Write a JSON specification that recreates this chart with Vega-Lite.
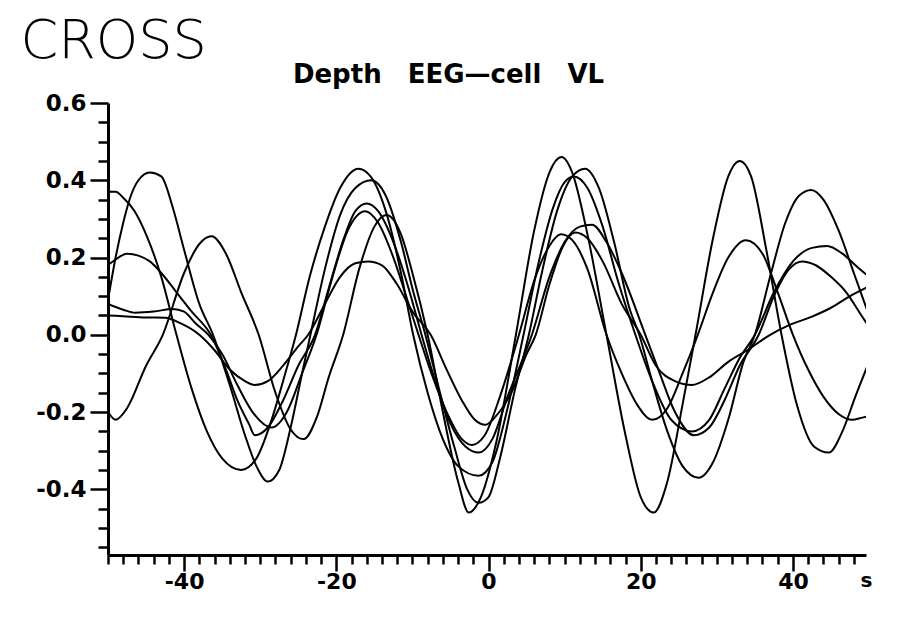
{
  "$schema": "https://vega.github.io/schema/vega-lite/v6.json",
  "autosize": {"type": "none"},
  "width": 758,
  "height": 452,
  "padding": {"left": 108, "top": 103, "right": 36, "bottom": 70},
  "background": "white",
  "config": {"view": {"stroke": null}},
  "resolve": {"axis": {"x": "independent", "y": "independent"}},
  "layer": [
    {
      "data": {"values": [
        {"c":"c1","t":-50,"v":0.37},{"c":"c1","t":-49,"v":0.37},{"c":"c1","t":-48,"v":0.355},{"c":"c1","t":-46.5,"v":0.32},{"c":"c1","t":-45,"v":0.26},{"c":"c1","t":-43,"v":0.15},{"c":"c1","t":-41,"v":0.0},{"c":"c1","t":-39,"v":-0.14},{"c":"c1","t":-37,"v":-0.25},{"c":"c1","t":-35,"v":-0.32},{"c":"c1","t":-32.5,"v":-0.35},{"c":"c1","t":-30.5,"v":-0.32},{"c":"c1","t":-28.5,"v":-0.22},{"c":"c1","t":-27,"v":-0.12},{"c":"c1","t":-25.3,"v":0.0},{"c":"c1","t":-23.5,"v":0.15},{"c":"c1","t":-21.5,"v":0.28},{"c":"c1","t":-19.5,"v":0.38},{"c":"c1","t":-17.1,"v":0.43},{"c":"c1","t":-15.5,"v":0.41},{"c":"c1","t":-13.5,"v":0.32},{"c":"c1","t":-11.5,"v":0.16},{"c":"c1","t":-9.9,"v":0.0},{"c":"c1","t":-8,"v":-0.15},{"c":"c1","t":-6,"v":-0.27},{"c":"c1","t":-4,"v":-0.34},{"c":"c1","t":-1.3,"v":-0.365},{"c":"c1","t":0.5,"v":-0.33},{"c":"c1","t":2.5,"v":-0.19},{"c":"c1","t":4.6,"v":0.0},{"c":"c1","t":6.5,"v":0.18},{"c":"c1","t":8.5,"v":0.33},{"c":"c1","t":10,"v":0.395},{"c":"c1","t":11.2,"v":0.41},{"c":"c1","t":13,"v":0.38},{"c":"c1","t":15,"v":0.28},{"c":"c1","t":17,"v":0.14},{"c":"c1","t":19.3,"v":0.0},{"c":"c1","t":21.5,"v":-0.12},{"c":"c1","t":24,"v":-0.22},{"c":"c1","t":26.7,"v":-0.25},{"c":"c1","t":29,"v":-0.22},{"c":"c1","t":31,"v":-0.14},{"c":"c1","t":33,"v":-0.06},{"c":"c1","t":35,"v":0.0},{"c":"c1","t":37.5,"v":0.11},{"c":"c1","t":40,"v":0.19},{"c":"c1","t":42.5,"v":0.225},{"c":"c1","t":44.5,"v":0.23},{"c":"c1","t":46.5,"v":0.21},{"c":"c1","t":48.5,"v":0.175},{"c":"c1","t":50,"v":0.15},

        {"c":"c2","t":-50,"v":0.09},{"c":"c2","t":-49,"v":0.2},{"c":"c2","t":-48,"v":0.29},{"c":"c2","t":-47,"v":0.36},{"c":"c2","t":-46,"v":0.4},{"c":"c2","t":-44.5,"v":0.42},{"c":"c2","t":-43,"v":0.41},{"c":"c2","t":-41.5,"v":0.33},{"c":"c2","t":-40,"v":0.22},{"c":"c2","t":-38,"v":0.08},{"c":"c2","t":-36.2,"v":0.0},{"c":"c2","t":-34,"v":-0.13},{"c":"c2","t":-32,"v":-0.26},{"c":"c2","t":-30.5,"v":-0.34},{"c":"c2","t":-29,"v":-0.38},{"c":"c2","t":-27.5,"v":-0.35},{"c":"c2","t":-26,"v":-0.24},{"c":"c2","t":-24.5,"v":-0.1},{"c":"c2","t":-23.4,"v":0.0},{"c":"c2","t":-21.5,"v":0.17},{"c":"c2","t":-19.5,"v":0.31},{"c":"c2","t":-17.5,"v":0.38},{"c":"c2","t":-15.4,"v":0.4},{"c":"c2","t":-13.5,"v":0.36},{"c":"c2","t":-11.5,"v":0.24},{"c":"c2","t":-10,"v":0.12},{"c":"c2","t":-8.3,"v":0.0},{"c":"c2","t":-6.5,"v":-0.14},{"c":"c2","t":-4.5,"v":-0.29},{"c":"c2","t":-2.8,"v":-0.4},{"c":"c2","t":-1.3,"v":-0.435},{"c":"c2","t":0,"v":-0.42},{"c":"c2","t":1.5,"v":-0.32},{"c":"c2","t":3.5,"v":-0.14},{"c":"c2","t":5.3,"v":0.0},{"c":"c2","t":7,"v":0.16},{"c":"c2","t":9,"v":0.32},{"c":"c2","t":11,"v":0.41},{"c":"c2","t":12.7,"v":0.43},{"c":"c2","t":14.5,"v":0.38},{"c":"c2","t":16.5,"v":0.24},{"c":"c2","t":18.5,"v":0.07},{"c":"c2","t":19.8,"v":0.0},{"c":"c2","t":21.5,"v":-0.12},{"c":"c2","t":23.5,"v":-0.25},{"c":"c2","t":25.5,"v":-0.34},{"c":"c2","t":27.6,"v":-0.37},{"c":"c2","t":29.5,"v":-0.33},{"c":"c2","t":31.5,"v":-0.22},{"c":"c2","t":33.5,"v":-0.07},{"c":"c2","t":35,"v":0.0},{"c":"c2","t":37,"v":0.15},{"c":"c2","t":39,"v":0.29},{"c":"c2","t":40.8,"v":0.36},{"c":"c2","t":42.4,"v":0.375},{"c":"c2","t":44,"v":0.35},{"c":"c2","t":46,"v":0.27},{"c":"c2","t":48,"v":0.16},{"c":"c2","t":50,"v":0.05},

        {"c":"c3","t":-50,"v":0.18},{"c":"c3","t":-49,"v":0.195},{"c":"c3","t":-47.5,"v":0.21},{"c":"c3","t":-46,"v":0.205},{"c":"c3","t":-44.5,"v":0.19},{"c":"c3","t":-43,"v":0.16},{"c":"c3","t":-41,"v":0.11},{"c":"c3","t":-39,"v":0.06},{"c":"c3","t":-36.5,"v":0.0},{"c":"c3","t":-34.5,"v":-0.09},{"c":"c3","t":-33,"v":-0.17},{"c":"c3","t":-31.5,"v":-0.23},{"c":"c3","t":-30.7,"v":-0.26},{"c":"c3","t":-29,"v":-0.24},{"c":"c3","t":-27,"v":-0.17},{"c":"c3","t":-25,"v":-0.08},{"c":"c3","t":-22.8,"v":0.0},{"c":"c3","t":-21,"v":0.12},{"c":"c3","t":-19,"v":0.25},{"c":"c3","t":-17.5,"v":0.32},{"c":"c3","t":-16,"v":0.34},{"c":"c3","t":-14.5,"v":0.32},{"c":"c3","t":-12.5,"v":0.24},{"c":"c3","t":-10.5,"v":0.12},{"c":"c3","t":-8.8,"v":0.0},{"c":"c3","t":-7,"v":-0.12},{"c":"c3","t":-5,"v":-0.23},{"c":"c3","t":-3,"v":-0.29},{"c":"c3","t":-1.3,"v":-0.305},{"c":"c3","t":0.5,"v":-0.27},{"c":"c3","t":2.5,"v":-0.16},{"c":"c3","t":5.7,"v":0.0},{"c":"c3","t":8,"v":0.15},{"c":"c3","t":10,"v":0.24},{"c":"c3","t":12,"v":0.28},{"c":"c3","t":13.6,"v":0.285},{"c":"c3","t":15.5,"v":0.24},{"c":"c3","t":17.5,"v":0.16},{"c":"c3","t":20.6,"v":0.0},{"c":"c3","t":22.5,"v":-0.1},{"c":"c3","t":24.5,"v":-0.2},{"c":"c3","t":27,"v":-0.26},{"c":"c3","t":29,"v":-0.24},{"c":"c3","t":31,"v":-0.17},{"c":"c3","t":33,"v":-0.08},{"c":"c3","t":35.5,"v":0.0},{"c":"c3","t":37.5,"v":0.1},{"c":"c3","t":39.5,"v":0.17},{"c":"c3","t":41.2,"v":0.19},{"c":"c3","t":43,"v":0.18},{"c":"c3","t":45,"v":0.15},{"c":"c3","t":47,"v":0.11},{"c":"c3","t":49,"v":0.05},{"c":"c3","t":50,"v":0.02},

        {"c":"c4","t":-50,"v":0.08},{"c":"c4","t":-48,"v":0.065},{"c":"c4","t":-46.4,"v":0.057},{"c":"c4","t":-44,"v":0.06},{"c":"c4","t":-41.5,"v":0.067},{"c":"c4","t":-40,"v":0.06},{"c":"c4","t":-38.5,"v":0.03},{"c":"c4","t":-36.8,"v":0.0},{"c":"c4","t":-35,"v":-0.05},{"c":"c4","t":-33,"v":-0.13},{"c":"c4","t":-31,"v":-0.2},{"c":"c4","t":-28.5,"v":-0.24},{"c":"c4","t":-26.5,"v":-0.2},{"c":"c4","t":-24.5,"v":-0.1},{"c":"c4","t":-22.6,"v":0.0},{"c":"c4","t":-20.5,"v":0.15},{"c":"c4","t":-18.5,"v":0.27},{"c":"c4","t":-16.2,"v":0.32},{"c":"c4","t":-14.5,"v":0.29},{"c":"c4","t":-12.5,"v":0.2},{"c":"c4","t":-10.5,"v":0.08},{"c":"c4","t":-9.2,"v":0.0},{"c":"c4","t":-7.5,"v":-0.1},{"c":"c4","t":-5.5,"v":-0.2},{"c":"c4","t":-3.5,"v":-0.27},{"c":"c4","t":-2.2,"v":-0.285},{"c":"c4","t":-0.5,"v":-0.26},{"c":"c4","t":1.5,"v":-0.16},{"c":"c4","t":4,"v":0.0},{"c":"c4","t":6,"v":0.14},{"c":"c4","t":8,"v":0.23},{"c":"c4","t":9.5,"v":0.26},{"c":"c4","t":11,"v":0.245},{"c":"c4","t":13,"v":0.17},{"c":"c4","t":15.5,"v":0.0},{"c":"c4","t":17.5,"v":-0.1},{"c":"c4","t":19.5,"v":-0.18},{"c":"c4","t":21.5,"v":-0.22},{"c":"c4","t":23.5,"v":-0.19},{"c":"c4","t":25.5,"v":-0.1},{"c":"c4","t":27.5,"v":0.0},{"c":"c4","t":29.5,"v":0.11},{"c":"c4","t":31.5,"v":0.2},{"c":"c4","t":33.8,"v":0.245},{"c":"c4","t":36,"v":0.21},{"c":"c4","t":38,"v":0.11},{"c":"c4","t":40,"v":0.0},{"c":"c4","t":42,"v":-0.09},{"c":"c4","t":44,"v":-0.16},{"c":"c4","t":46,"v":-0.205},{"c":"c4","t":47.8,"v":-0.22},{"c":"c4","t":49,"v":-0.215},{"c":"c4","t":50,"v":-0.21},

        {"c":"c5","t":-50,"v":0.05},{"c":"c5","t":-48,"v":0.048},{"c":"c5","t":-45,"v":0.045},{"c":"c5","t":-42.5,"v":0.044},{"c":"c5","t":-40.5,"v":0.03},{"c":"c5","t":-38,"v":0.0},{"c":"c5","t":-36,"v":-0.04},{"c":"c5","t":-34,"v":-0.09},{"c":"c5","t":-32,"v":-0.12},{"c":"c5","t":-30.7,"v":-0.13},{"c":"c5","t":-29,"v":-0.12},{"c":"c5","t":-27,"v":-0.08},{"c":"c5","t":-25,"v":-0.03},{"c":"c5","t":-23.7,"v":0.0},{"c":"c5","t":-21.5,"v":0.08},{"c":"c5","t":-19.5,"v":0.15},{"c":"c5","t":-17.5,"v":0.185},{"c":"c5","t":-15.8,"v":0.19},{"c":"c5","t":-14,"v":0.18},{"c":"c5","t":-12,"v":0.13},{"c":"c5","t":-10,"v":0.06},{"c":"c5","t":-7.6,"v":0.0},{"c":"c5","t":-5.5,"v":-0.09},{"c":"c5","t":-3.5,"v":-0.17},{"c":"c5","t":-1.8,"v":-0.22},{"c":"c5","t":-0.4,"v":-0.233},{"c":"c5","t":1,"v":-0.21},{"c":"c5","t":3,"v":-0.15},{"c":"c5","t":5,"v":-0.05},{"c":"c5","t":6.2,"v":0.0},{"c":"c5","t":8,"v":0.13},{"c":"c5","t":9.8,"v":0.23},{"c":"c5","t":11.4,"v":0.265},{"c":"c5","t":13,"v":0.25},{"c":"c5","t":15,"v":0.19},{"c":"c5","t":17.5,"v":0.08},{"c":"c5","t":20,"v":0.0},{"c":"c5","t":22,"v":-0.08},{"c":"c5","t":24.5,"v":-0.12},{"c":"c5","t":26.7,"v":-0.13},{"c":"c5","t":29,"v":-0.11},{"c":"c5","t":31.5,"v":-0.07},{"c":"c5","t":34,"v":-0.04},{"c":"c5","t":37,"v":0.0},{"c":"c5","t":39.5,"v":0.025},{"c":"c5","t":42.5,"v":0.047},{"c":"c5","t":45,"v":0.07},{"c":"c5","t":47.5,"v":0.1},{"c":"c5","t":50,"v":0.125},

        {"c":"c6","t":-50,"v":-0.2},{"c":"c6","t":-49,"v":-0.22},{"c":"c6","t":-47.5,"v":-0.19},{"c":"c6","t":-45,"v":-0.08},{"c":"c6","t":-42.8,"v":0.0},{"c":"c6","t":-40,"v":0.16},{"c":"c6","t":-38,"v":0.235},{"c":"c6","t":-36.4,"v":0.255},{"c":"c6","t":-34.5,"v":0.21},{"c":"c6","t":-32.5,"v":0.11},{"c":"c6","t":-30.2,"v":0.0},{"c":"c6","t":-28,"v":-0.15},{"c":"c6","t":-26,"v":-0.245},{"c":"c6","t":-24.3,"v":-0.27},{"c":"c6","t":-22.5,"v":-0.21},{"c":"c6","t":-21,"v":-0.11},{"c":"c6","t":-19.1,"v":0.0},{"c":"c6","t":-17,"v":0.17},{"c":"c6","t":-15,"v":0.28},{"c":"c6","t":-13.4,"v":0.31},{"c":"c6","t":-11.5,"v":0.26},{"c":"c6","t":-10,"v":0.16},{"c":"c6","t":-8,"v":0.0},{"c":"c6","t":-6,"v":-0.2},{"c":"c6","t":-4,"v":-0.38},{"c":"c6","t":-2.6,"v":-0.46},{"c":"c6","t":-1,"v":-0.42},{"c":"c6","t":1,"v":-0.28},{"c":"c6","t":3.6,"v":0.0},{"c":"c6","t":6,"v":0.27},{"c":"c6","t":8,"v":0.42},{"c":"c6","t":9.6,"v":0.46},{"c":"c6","t":11,"v":0.42},{"c":"c6","t":13,"v":0.26},{"c":"c6","t":15.5,"v":0.0},{"c":"c6","t":18,"v":-0.26},{"c":"c6","t":20,"v":-0.42},{"c":"c6","t":21.7,"v":-0.46},{"c":"c6","t":23.5,"v":-0.38},{"c":"c6","t":25.5,"v":-0.18},{"c":"c6","t":27.2,"v":0.0},{"c":"c6","t":29.5,"v":0.25},{"c":"c6","t":31.5,"v":0.41},{"c":"c6","t":33,"v":0.45},{"c":"c6","t":34.5,"v":0.41},{"c":"c6","t":36.5,"v":0.22},{"c":"c6","t":38.5,"v":0.0},{"c":"c6","t":40.5,"v":-0.18},{"c":"c6","t":42.8,"v":-0.29},{"c":"c6","t":44.7,"v":-0.305},{"c":"c6","t":46.5,"v":-0.25},{"c":"c6","t":48.2,"v":-0.16},{"c":"c6","t":50,"v":-0.07}
      ]},
      "mark": {"type": "line", "interpolate": "monotone", "stroke": "black", "strokeWidth": 2, "clip": true},
      "encoding": {
        "detail": {"field": "c", "type": "nominal"},
        "x": {"field": "t", "type": "quantitative",
              "scale": {"domain": [-50, 49.6], "nice": false, "zero": false},
              "axis": {"orient": "bottom", "values": [-40, -20, 0, 20, 40], "labelExpr": "replace(datum.label, '\u2212', '-')", "grid": false, "tickSize": 16, "tickWidth": 2.5, "tickColor": "black", "domainWidth": 3, "domainColor": "black", "labelFont": "DejaVu Sans", "labelFontSize": 22, "labelFontWeight": "bold", "labelColor": "black", "labelPadding": 0, "labelFlush": false,
                       "title": "s", "titleX": 758, "titleY": 31, "titleFont": "DejaVu Sans", "titleFontSize": 20, "titleFontWeight": "bold", "titleColor": "black", "titleAlign": "center", "titleBaseline": "alphabetic"}},
        "y": {"field": "v", "type": "quantitative",
              "scale": {"domain": [-0.57, 0.6], "nice": false, "zero": false},
              "axis": {"orient": "left", "values": [-0.4, -0.2, 0, 0.2, 0.4, 0.6], "format": ".1f", "labelExpr": "replace(datum.label, '\u2212', '-')", "grid": false, "tickSize": 18, "tickWidth": 2.5, "tickColor": "black", "domainWidth": 3, "domainColor": "black", "labelFont": "DejaVu Sans", "labelFontSize": 23, "labelFontWeight": "bold", "labelColor": "black", "labelPadding": 4,
                       "title": "Depth\u2003EEG\u2014cell\u2003VL", "titleAngle": 0, "titleX": 340, "titleY": -21, "titleAlign": "center", "titleBaseline": "alphabetic", "titleFont": "DejaVu Sans", "titleFontSize": 26, "titleFontWeight": "bold", "titleColor": "black"}}
      }
    },
    {
      "mark": {"type": "rule", "stroke": "black", "strokeWidth": 3},
      "encoding": {
        "y": {"datum": 0, "type": "quantitative",
              "axis": {"orient": "left", "values": [-0.55, -0.5, -0.45, -0.35, -0.3, -0.25, -0.15, -0.1, -0.05, 0.05, 0.1, 0.15, 0.25, 0.3, 0.35, 0.45, 0.5, 0.55], "labels": false, "domain": false, "grid": false, "tickSize": 10, "tickWidth": 2.5, "tickColor": "black",
                       "title": "CROSS", "titleAngle": 0, "titleX": -88, "titleY": -46, "titleAlign": "left", "titleBaseline": "alphabetic", "titleFont": "DejaVu Sans", "titleFontSize": 54, "titleFontWeight": 200, "titleColor": "black"}}
      }
    },
    {
      "mark": {"type": "rule", "stroke": "black", "strokeWidth": 2.5},
      "encoding": {
        "x": {"datum": 0, "type": "quantitative",
              "axis": {"orient": "bottom", "values": [-50, -48, -46, -44, -42, -38, -36, -34, -32, -30, -28, -26, -24, -22, -18, -16, -14, -12, -10, -8, -6, -4, -2, 2, 4, 6, 8, 10, 12, 14, 16, 18, 22, 24, 26, 28, 30, 32, 34, 36, 38, 42, 44, 46, 48], "labels": false, "domain": false, "grid": false, "tickSize": 9, "tickWidth": 2.5, "tickColor": "black", "title": null}}
      }
    }
  ]
}
